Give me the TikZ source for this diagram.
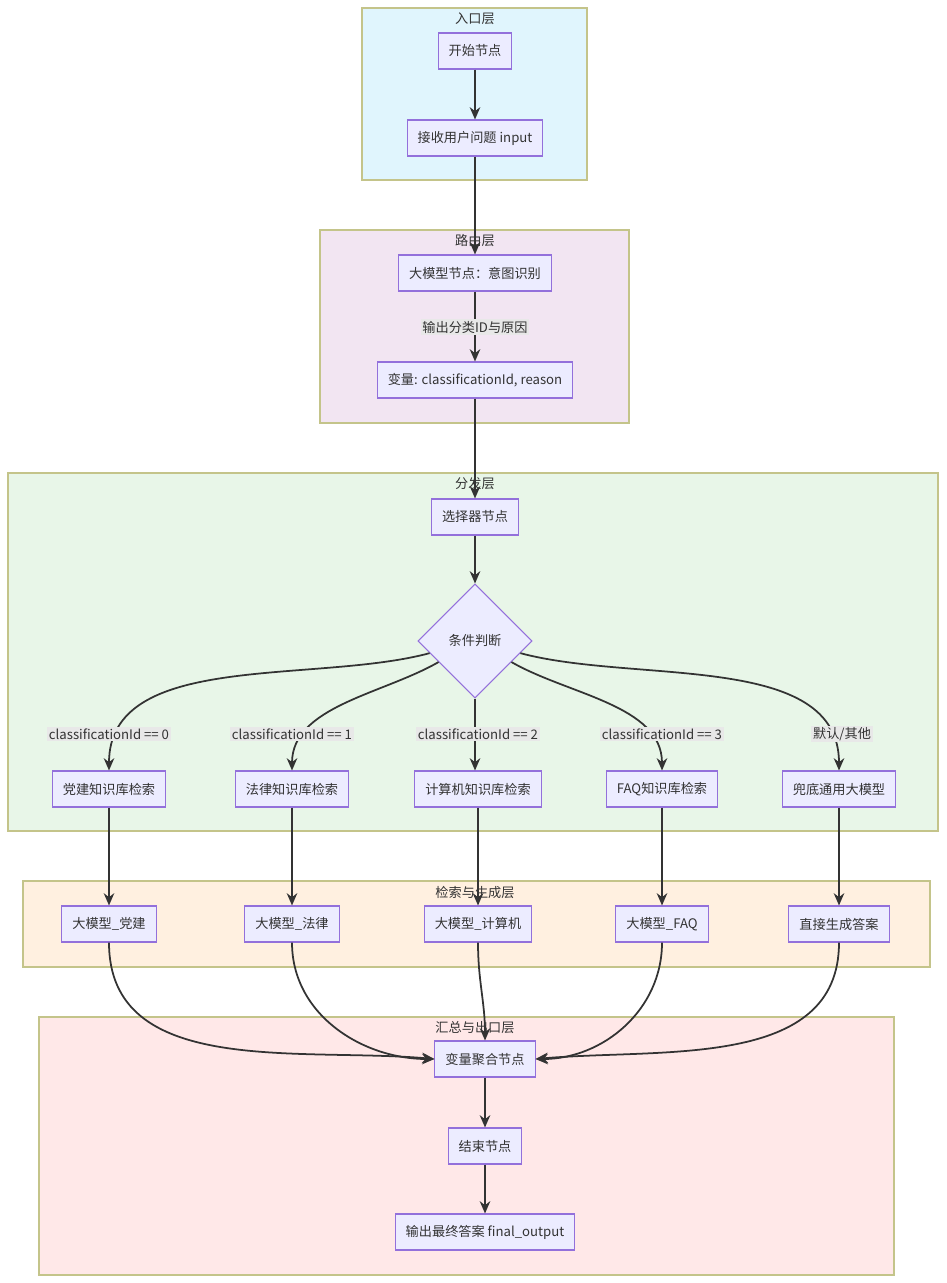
\documentclass[tikz,border=0pt]{standalone}
\usepackage{fontspec}
\setmainfont{Noto Sans CJK SC}
\usetikzlibrary{shapes.geometric,arrows.meta,positioning}
\definecolor{nodefill}{HTML}{ECECFF}
\definecolor{nodeline}{HTML}{9370DB}
\definecolor{boxline}{HTML}{C4C48A}
\definecolor{edgecol}{HTML}{333333}
\definecolor{labelbg}{HTML}{E8E8E8}
\begin{document}
\begin{tikzpicture}[
    x=0.02cm, y=-0.02cm,
    every node/.style={font=\fontsize{7.5}{9}\selectfont, text=edgecol},
    layer/.style={draw=boxline, line width=0.6pt},
    task/.style={rectangle, draw=nodeline, fill=nodefill, line width=0.6pt, minimum height=0.72cm, inner xsep=6pt},
    judge/.style={diamond, draw=nodeline, fill=nodefill, line width=0.6pt, minimum width=2.28cm, minimum height=2.28cm, inner sep=0pt},
    arrow/.style={-{Stealth[length=7pt,width=6pt]}, line width=1pt, edgecol},
    cond/.style={fill=labelbg, inner sep=1pt}
    ]
    \useasboundingbox (0,0) rectangle (946,1283);

    % Layers
    \fill[cyan!12] (362,8) rectangle (587,180);
    \draw[layer] (362,8) rectangle (587,180);
    \node at (475,19) {入口层};
    \fill[violet!10] (320,230) rectangle (629,423);
    \draw[layer] (320,230) rectangle (629,423);
    \node at (475,241) {路由层};
    \fill[green!60!black!9] (8,473) rectangle (938,831);
    \draw[layer] (8,473) rectangle (938,831);
    \node at (475,484) {分发层};
    \fill[orange!12] (23,881) rectangle (930,967);
    \draw[layer] (23,881) rectangle (930,967);
    \node at (475,892) {检索与生成层};
    \fill[red!9] (39,1017) rectangle (894,1275);
    \draw[layer] (39,1017) rectangle (894,1275);
    \node at (475,1028) {汇总与出口层};

    % Nodes
    \node[task] (start) at (475,51) {开始节点};
    \node[task] (input) at (475,138) {接收用户问题 input};
    \node[task] (intent) at (475,273) {大模型节点：意图识别};
    \node[task] (vars) at (475,380) {变量: classificationId, reason};
    \node[task] (select) at (475,517) {选择器节点};
    \node[judge] (judge) at (475,641) {条件判断};

    \node[task] (kb0) at (109,789) {党建知识库检索};
    \node[task] (kb1) at (292,789) {法律知识库检索};
    \node[task] (kb2) at (478,789) {计算机知识库检索};
    \node[task] (kb3) at (662,789) {FAQ知识库检索};
    \node[task] (kb4) at (839,789) {兜底通用大模型};

    \node[task] (llm0) at (109,924) {大模型\_党建};
    \node[task] (llm1) at (292,924) {大模型\_法律};
    \node[task] (llm2) at (478,924) {大模型\_计算机};
    \node[task] (llm3) at (662,924) {大模型\_FAQ};
    \node[task] (llm4) at (839,924) {直接生成答案};

    \node[task] (merge) at (485,1059) {变量聚合节点};
    \node[task] (finish) at (485,1146) {结束节点};
    \node[task] (output) at (485,1232) {输出最终答案 final\_output};

    % Edges
    \draw[arrow] (start) -- (input);
    \draw[arrow] (input) -- (intent);
    \draw[arrow] (intent) -- (vars);
    \draw[arrow] (vars) -- (select);
    \draw[arrow] (select) -- (judge);

    \draw[arrow] (judge) to[out=195,in=90,looseness=0.9] (kb0.north);
    \draw[arrow] (judge) to[out=210,in=90,looseness=0.9] (kb1.north);
    \draw[arrow] (judge.south) -- (kb2.north -| judge.south);
    \draw[arrow] (judge) to[out=-30,in=90,looseness=0.9] (kb3.north);
    \draw[arrow] (judge) to[out=-15,in=90,looseness=0.9] (kb4.north);

    \foreach \i in {0,...,4}
        \draw[arrow] (kb\i) -- (llm\i);

    \draw[arrow] (llm0.south) to[out=-90,in=175] (merge.west);
    \draw[arrow] (llm1.south) to[out=-90,in=180] (merge.west);
    \draw[arrow] (llm2.south) to[out=-90,in=90] (merge.north);
    \draw[arrow] (llm3.south) to[out=-90,in=0] (merge.east);
    \draw[arrow] (llm4.south) to[out=-90,in=5] (merge.east);

    \draw[arrow] (merge) -- (finish);
    \draw[arrow] (finish) -- (output);

    % Labels
    \node[cond] at (475,327) {输出分类ID与原因};
    \node[cond] at (109,734) {classificationId == 0};
    \node[cond] at (292,734) {classificationId == 1};
    \node[cond] at (478,734) {classificationId == 2};
    \node[cond] at (662,734) {classificationId == 3};
    \node[cond] at (842,734) {默认/其他};
\end{tikzpicture}
\end{document}
